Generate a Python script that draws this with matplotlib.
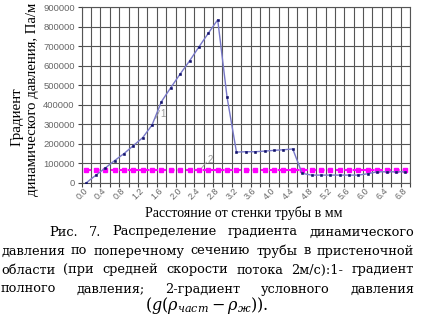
import numpy as np
import matplotlib
matplotlib.use("Agg")
import matplotlib.pyplot as plt

plt.rcParams['mathtext.fontset'] = 'custom'
plt.rcParams['mathtext.rm'] = 'DejaVu Serif'
plt.rcParams['mathtext.it'] = 'DejaVu Serif:italic'

# Categories (distance from the wall, mm)
categories = ["0.0", "0.2", "0.4", "0.6", "0.8", "1.0", "1.2", "1.4", "1.6", "1.8",
              "2.0", "2.2", "2.4", "2.6", "2.8", "3.0", "3.2", "3.4", "3.6", "3.8",
              "4.0", "4.2", "4.4", "4.6", "4.8", "5.0", "5.2", "5.4", "5.6", "5.8",
              "6.0", "6.2", "6.4", "6.6", "6.8"]

# 1 - full pressure gradient
full_gradient = [0, 38000, 75000, 113000, 149000, 190000, 231000, 296000, 416000, 488000,
                 558000, 625000, 697000, 767000, 836000, 438000, 157000, 159000, 159000, 162000,
                 166000, 169000, 173000, 48000, 39000, 39000, 39000, 39000, 39000, 39000,
                 46000, 56000, 56000, 56000, 56000]

# 2 - conditional pressure gradient
cond_gradient = [65000, 65000, 65000, 65000, 65000, 65000, 65000, 65000, 65000, 65000,
                 65000, 65000, 65000, 65000, 65000, 65000, 65000, 65000, 65000, 65000,
                 65000, 65000, 65000, 65000, 65000, 65000, 65000, 65000, 65000, 65000,
                 65000, 65000, 65000, 65000, 65000]

y_ticks = [0, 100000, 200000, 300000, 400000, 500000, 600000, 700000, 800000, 900000]

W, H = 424, 320
fig = plt.figure(figsize=(W / 100, H / 100), dpi=100)
ax = fig.add_axes([81.7 / W, 1 - 182.7 / H, (410 - 81.7) / W, (182.7 - 7.3) / H])

n = len(categories)
x = np.arange(n) + 0.5

# Series
ax.plot(x, cond_gradient, color='#ff00ff', lw=1.5, ls=(0, (2.5, 1.5)),
        marker='s', ms=2.6, mec='#ff00ff', mfc='#ff00ff', zorder=3)
ax.plot(x, full_gradient, color='#7878c8', lw=1.0,
        marker='s', ms=1.7, mew=0.4, mec='#10106a', mfc='#10106a', zorder=4)

# Axes, grid
ax.set_xlim(0, n)
ax.set_ylim(0, 900000)
ax.set_xticks(np.arange(n + 1))
ax.set_xticklabels([])
ax.set_xticks(x[::2], minor=True)
ax.set_xticklabels(categories[::2], minor=True, rotation=45, ha='right', va='center',
                   rotation_mode='anchor', fontsize=6.5, color='#666666',
                   family='Liberation Sans')
ax.tick_params(axis='x', which='minor', length=0, pad=5)
ax.tick_params(axis='x', which='major', length=3, color='#444444', width=0.8)
ax.set_yticks(y_ticks)
ax.set_yticklabels([str(v) for v in y_ticks], fontsize=6.8, color='#666666',
                   family='Liberation Sans')
ax.tick_params(axis='y', length=3, color='#444444', width=0.8, pad=2)
ax.grid(True, which='major', color='#555555', lw=0.8)
ax.set_axisbelow(True)
for s in ax.spines.values():
    s.set_color('#555555')
    s.set_linewidth(0.8)

# Series labels
ax.plot([7.9, 8.3], [330000, 370000], color='#999999', lw=0.6)
ax.text(8.4, 355000, "1", fontsize=7, color='#999999', family='Liberation Sans',
        va='center', ha='left')
ax.plot([12.6, 13.3], [65000, 105000], color='#999999', lw=0.6)
ax.text(13.4, 118000, "2", fontsize=7, color='#999999', family='Liberation Sans',
        va='center', ha='left')

# Axis labels
fig.text(17 / W, 1 - 117 / H, "Градиент", rotation=90, ha='center', va='center',
         fontsize=10.8, family='Liberation Serif')
fig.text(33 / W, 1 - 99 / H, "динамического давления, Па/м", rotation=90,
         ha='center', va='center', fontsize=10.6, family='Liberation Serif')
fig.text(244 / W, 1 - 213 / H, "Расстояние от стенки трубы в мм", ha='center',
         va='center', fontsize=10, family='Liberation Serif')

# Caption, justified by hand
caption = [
    ("Рис. 7. Распределение  градиента динамического", 49, 414, 235.5),
    ("давления по поперечному сечению трубы в пристеночной", 1, 414, 254.5),
    ("области (при средней скорости потока 2м/с):1- градиент", 1, 414, 273.5),
    ("полного давления; 2-градиент условного давления", 1, 414, 292.5),
]
renderer = fig.canvas.get_renderer()
for line, x0, x1, base in caption:
    words = line.split()
    texts = [fig.text(0, 1 - base / H, w, fontsize=9.3, family='DejaVu Serif',
                      va='baseline', ha='left') for w in words]
    widths = [t.get_window_extent(renderer).width for t in texts]
    gap = (x1 - x0 - sum(widths)) / (len(words) - 1)
    pos = x0
    for t, w in zip(texts, widths):
        t.set_x(pos / W)
        pos += w + gap

fig.text(207 / W, 1 - 310 / H, r"$(g(\rho_{част}-\rho_{ж}))$.", ha='center',
         va='baseline', fontsize=11.5, family='DejaVu Serif')

fig.savefig("out.png", dpi=100)
